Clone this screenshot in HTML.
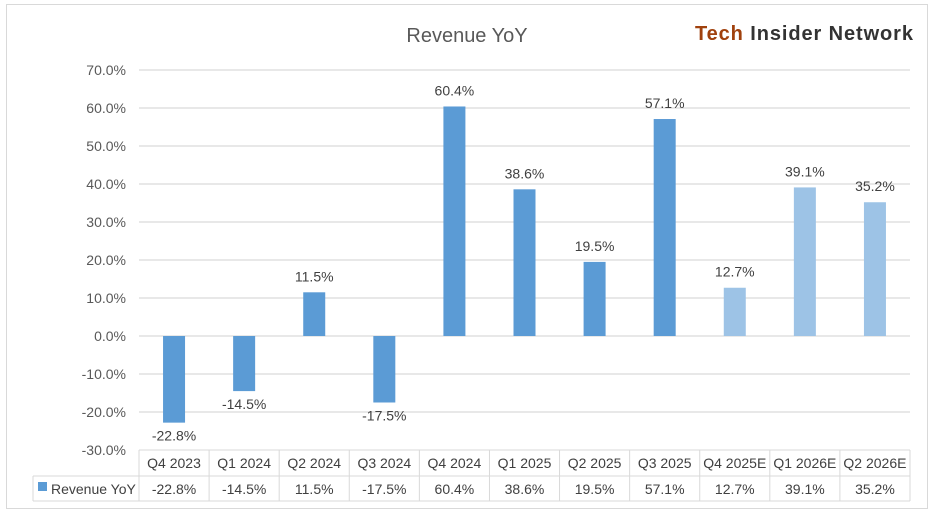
<!DOCTYPE html>
<html><head><meta charset="utf-8"><style>
body{margin:0;background:#fff;}
svg text{font-family:"Liberation Sans",sans-serif;}
</style></head><body>
<svg width="936" height="513" id="chart">
<rect x="6.5" y="4.5" width="921" height="504" fill="#fff" stroke="#d9d9d9"/>
<text x="467" y="42" font-size="20" fill="#595959" text-anchor="middle">Revenue YoY</text>
<text x="913" y="40" font-size="20" font-weight="bold" text-anchor="end" textLength="218"><tspan fill="#a0410d">Tech</tspan><tspan fill="#333"> Insider Network</tspan></text>
<g id="grid"></g><g id="bars"></g><g id="table"></g>
</svg>
<script>
const categories=["Q4 2023","Q1 2024","Q2 2024","Q3 2024","Q4 2024","Q1 2025","Q2 2025","Q3 2025","Q4 2025E","Q1 2026E","Q2 2026E"];
const values=[-22.8,-14.5,11.5,-17.5,60.4,38.6,19.5,57.1,12.7,39.1,35.2];
const estimated=[false,false,false,false,false,false,false,false,true,true,true];
const ticks=[70,60,50,40,30,20,10,0,-10,-20,-30];
const NS="http://www.w3.org/2000/svg";
const x0=139,x1=910,yTop=70,yBot=450,vMax=70,vMin=-30;
const colW=(x1-x0)/categories.length;
function y(v){return yTop+(vMax-v)/(vMax-vMin)*(yBot-yTop);}
function xc(i){return x0+colW*(i+0.5);}
function mk(tag,attrs,parent,txt){const e=document.createElementNS(NS,tag);for(const k in attrs)e.setAttribute(k,attrs[k]);if(txt!==undefined)e.textContent=txt;parent.appendChild(e);return e;}
const fmt=v=>v.toFixed(1)+"%";
const grid=document.getElementById('grid'),bars=document.getElementById('bars'),tbl=document.getElementById('table');
ticks.forEach(t=>{
  if(t>vMin){const l=mk('line',{x1:x0,x2:x1,y1:y(t),y2:y(t),stroke:'#d9d9d9','stroke-width':1.3},grid);
  
  }
  const tx=mk('text',{x:126,y:y(t)+5,'font-size':14,fill:'#595959','text-anchor':'end'},grid,fmt(t));
  
  
});
values.forEach((v,i)=>{
  const bw=22,top=Math.min(y(v),y(0)),h=Math.abs(y(v)-y(0));
  const r=mk('rect',{x:xc(i)-bw/2,y:top,width:bw,height:h,fill:estimated[i]?'#9dc3e6':'#5b9bd5'},bars);
  
  
  const ly=v>=0?y(v)-11:y(v)+18;
  const t=mk('text',{x:xc(i),y:ly,'font-size':14,fill:'#404040','text-anchor':'middle'},bars,fmt(v));
  
  
});
const tY0=450,tY1=476,tY2=501,lx=33;
const st={stroke:'#d9d9d9','stroke-width':1,fill:'none'};
mk('line',Object.assign({x1:x0,x2:x1,y1:tY0,y2:tY0},st),tbl);
mk('line',Object.assign({x1:lx,x2:x1,y1:tY1,y2:tY1},st),tbl);
mk('line',Object.assign({x1:lx,x2:x1,y1:tY2,y2:tY2},st),tbl);
mk('line',Object.assign({x1:lx,x2:lx,y1:tY1,y2:tY2},st),tbl);
for(let i=0;i<=categories.length;i++){mk('line',Object.assign({x1:x0+colW*i,x2:x0+colW*i,y1:tY0,y2:tY2},st),tbl);}
categories.forEach((c,i)=>{
  const h=mk('text',{x:xc(i),y:468,'font-size':14,fill:'#404040','text-anchor':'middle'},tbl,c);
  
  
  const d=mk('text',{x:xc(i),y:494,'font-size':14,fill:'#404040','text-anchor':'middle'},tbl,fmt(values[i]));
  
  
});
const key=mk('rect',{x:38,y:482,width:9,height:9,fill:'#5b9bd5'},tbl);


const lt=mk('text',{x:51,y:494,'font-size':14,fill:'#404040'},tbl,'Revenue YoY');


</script>
</body></html>
